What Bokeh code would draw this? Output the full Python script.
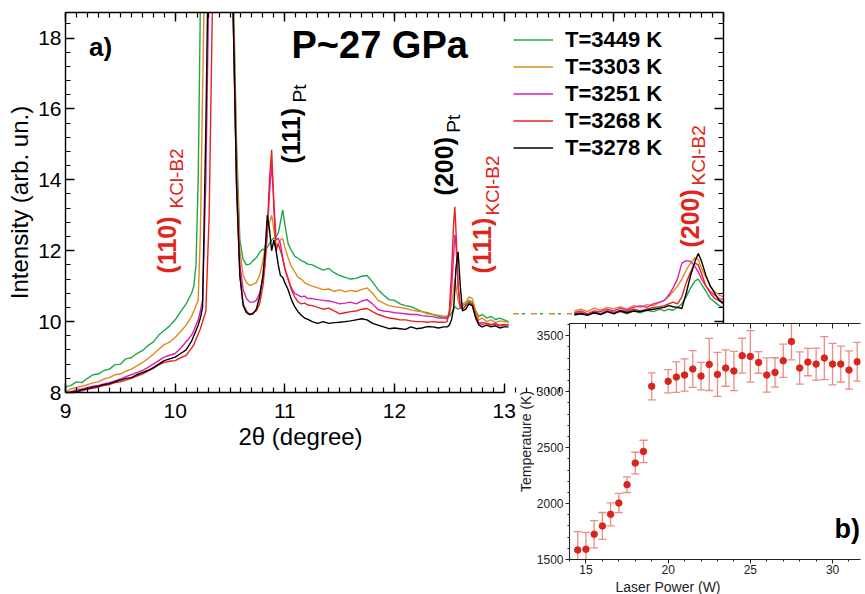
import numpy as np
from bokeh.plotting import figure
from bokeh.models import (Range1d, LinearAxis, Label, Legend, LegendItem, Title,
                          ColumnDataSource, Whisker, TeeHead, FixedTicker)
from bokeh.layouts import column
from bokeh.embed import file_html
from bokeh.resources import INLINE

FONT = "Liberation Sans"

# ---------------- panel a) : XRD patterns ----------------
two_theta = [9.00, 9.05, 9.10, 9.15, 9.20, 9.25, 9.30, 9.35, 9.40, 9.45, 9.50, 9.55,
             9.60, 9.65, 9.70, 9.75, 9.80, 9.85, 9.90, 9.95, 10.00, 10.05, 10.10, 10.15,
             10.17, 10.19, 10.21, 10.23, 10.25, 10.28, 10.31, 10.35, 10.45, 10.50, 10.53,
             10.56, 10.59, 10.62, 10.65, 10.68, 10.71, 10.74, 10.77, 10.80, 10.82, 10.84,
             10.86, 10.88, 10.90, 10.92, 10.94, 10.96, 10.98, 11.00, 11.03, 11.06, 11.09,
             11.12, 11.15, 11.18, 11.21,
             11.25, 11.30, 11.35, 11.40, 11.45, 11.50, 11.55, 11.60, 11.65, 11.70, 11.75,
             11.80, 11.85, 11.90, 11.95, 12.00, 12.05, 12.10, 12.15, 12.20, 12.25, 12.30,
             12.35, 12.40, 12.45,
             12.48, 12.50, 12.52, 12.54, 12.55, 12.56, 12.58, 12.60, 12.62, 12.65, 12.68,
             12.71, 12.74, 12.77, 12.80, 12.84, 12.88, 12.92, 12.96, 13.00, 13.04]

two_theta_hi = [13.64, 13.70, 13.76, 13.82, 13.88, 13.94, 14.00, 14.06, 14.12, 14.18,
                14.24, 14.30, 14.36, 14.42, 14.46, 14.50, 14.54, 14.58, 14.62, 14.66,
                14.70, 14.74, 14.77, 14.80, 14.84, 14.88, 14.92, 14.96, 15.00]

gap_theta = [13.08, 13.62]
gap_int = [10.22, 10.22]

int_3449 = [8.15, 8.2, 8.3, 8.28, 8.4, 8.5, 8.52, 8.62, 8.66, 8.78, 8.8, 8.95,
            8.98, 9.1, 9.18, 9.32, 9.42, 9.62, 9.75, 9.88, 10.05, 10.28, 10.5, 10.8,
            11.0, 11.6, 14.0, 19.0, 23.0, 27.0, 29.0, 30.0, 30.0, 25.0, 19.5,
            15.0, 12.3, 11.75, 11.6, 11.62, 11.72, 11.8, 11.95, 12.05, 12.0, 12.1,
            12.2, 12.3, 12.35, 12.4, 12.5, 12.8, 13.15, 12.75, 12.2, 12.0, 11.85,
            11.78, 11.72, 11.68, 11.62,
            11.6, 11.52, 11.45, 11.5, 11.38, 11.3, 11.25, 11.2, 11.22, 11.28, 11.3,
            11.12, 10.9, 10.75, 10.62, 10.6, 10.5, 10.45, 10.42, 10.35, 10.28, 10.25,
            10.2, 10.15, 10.12,
            10.1, 10.15, 10.25, 10.35, 10.42, 10.4, 10.35, 10.38, 10.45, 10.5, 10.6,
            10.55, 10.3, 10.15, 10.2, 10.1, 10.15, 10.06, 10.1, 10.05, 10.0]
int_3303 = [8.02, 8.1, 8.14, 8.18, 8.22, 8.27, 8.3, 8.38, 8.42, 8.5, 8.52, 8.6,
            8.66, 8.75, 8.84, 8.95, 9.08, 9.22, 9.35, 9.42, 9.55, 9.72, 9.9, 10.15,
            10.3, 10.45, 10.6, 12.5, 16.5, 22.0, 26.0, 30.0, 30.0, 24.0, 19.0,
            14.5, 12.0, 11.3, 11.1, 11.02, 11.05, 11.1, 11.3, 11.7, 12.1, 12.5,
            12.8, 13.0, 12.6, 12.1, 12.2, 12.3, 12.35, 12.1, 11.8, 11.55, 11.4,
            11.25, 11.2, 11.1, 11.05,
            11.0, 10.95, 10.9, 10.92, 10.85, 10.9, 10.84, 10.88, 10.85, 10.9, 10.95,
            10.8, 10.6, 10.52, 10.45, 10.42, 10.4, 10.37, 10.33, 10.3, 10.28, 10.22,
            10.2, 10.18, 10.15,
            10.15, 10.2, 10.5, 10.9, 11.2, 11.0, 10.6, 10.4, 10.5, 10.55, 10.7,
            10.65, 10.3, 10.05, 10.1, 10.0, 10.05, 9.98, 10.02, 10.0, 9.98]
int_3251 = [7.98, 8.02, 8.08, 8.1, 8.14, 8.18, 8.2, 8.24, 8.28, 8.33, 8.38, 8.45,
            8.5, 8.56, 8.62, 8.7, 8.8, 8.9, 9.0, 9.05, 9.1, 9.25, 9.43, 9.62,
            9.75, 9.9, 10.05, 10.3, 10.6, 14.0, 20.0, 30.0, 30.0, 24.0, 18.5,
            14.0, 11.6, 10.9, 10.65, 10.55, 10.55, 10.6, 10.8, 11.2, 11.7, 12.5,
            13.6, 14.45, 13.4, 12.3, 12.35, 12.2, 11.8, 11.5, 11.2, 10.95, 10.8,
            10.75, 10.7, 10.72, 10.65,
            10.65, 10.62, 10.6, 10.58, 10.55, 10.5, 10.52, 10.55, 10.5, 10.58, 10.62,
            10.5, 10.34, 10.3, 10.28, 10.25, 10.24, 10.22, 10.2, 10.2, 10.17, 10.15,
            10.14, 10.1, 10.1,
            10.08, 10.25, 10.9, 11.9, 12.45, 12.2, 11.0, 10.45, 10.35, 10.45, 10.5,
            10.45, 10.15, 9.95, 9.98, 9.95, 9.92, 9.95, 9.9, 9.92, 9.9]
int_3268 = [7.95, 7.98, 8.02, 8.05, 8.1, 8.12, 8.15, 8.2, 8.22, 8.28, 8.3, 8.35,
            8.4, 8.46, 8.52, 8.6, 8.68, 8.78, 8.85, 8.88, 8.9, 8.98, 9.05, 9.25,
            9.35, 9.5, 9.65, 9.8, 10.0, 10.3, 13.0, 21.0, 30.0, 24.0, 18.5,
            13.8, 11.3, 10.5, 10.3, 10.2, 10.25, 10.3, 10.5, 11.0, 11.6, 12.6,
            14.0, 14.85, 13.2, 12.0, 12.2, 12.0, 11.8, 11.5, 11.2, 10.9, 10.7,
            10.56, 10.5, 10.52, 10.47,
            10.45, 10.4, 10.35, 10.38, 10.3, 10.22, 10.25, 10.28, 10.3, 10.35, 10.37,
            10.28, 10.2, 10.15, 10.1, 10.08, 10.05, 10.05, 10.02, 10.0, 10.0, 9.98,
            10.0, 9.98, 9.98,
            10.0, 10.3, 11.4, 12.8, 13.24, 12.6, 11.0, 10.4, 10.35, 10.45, 10.55,
            10.5, 10.2, 9.95, 9.92, 9.95, 9.9, 9.92, 9.88, 9.9, 9.92]
int_3278 = [7.95, 8.0, 8.02, 8.08, 8.1, 8.15, 8.18, 8.22, 8.25, 8.3, 8.35, 8.4,
            8.42, 8.5, 8.56, 8.62, 8.7, 8.8, 8.9, 8.95, 9.0, 9.1, 9.2, 9.45,
            9.6, 9.75, 9.9, 10.1, 10.4, 15.5, 22.0, 30.0, 30.0, 24.0, 18.5,
            13.8, 11.3, 10.45, 10.25, 10.2, 10.22, 10.35, 10.7, 11.3, 12.0, 13.0,
            12.6, 12.0, 12.3, 12.0, 11.6, 11.3, 11.25, 11.1, 10.9, 10.62, 10.42,
            10.28, 10.18, 10.1, 10.06,
            10.0, 9.95, 10.0, 9.95, 9.97, 9.98, 10.0, 10.02, 10.05, 10.08, 10.05,
            9.95, 9.9, 9.85, 9.8, 9.82, 9.8, 9.78, 9.85, 9.8, 9.82, 9.86,
            9.85, 9.82, 9.85,
            9.85, 9.9, 10.05, 10.4, 10.9, 11.5, 11.97, 11.0, 10.3, 10.35, 10.5,
            10.45, 10.1, 9.9, 9.85, 9.9, 9.85, 9.88, 9.82, 9.85, 9.85]

hi_3449 = [10.18, 10.22, 10.2, 10.25, 10.22, 10.3, 10.25, 10.28, 10.22, 10.3, 10.25, 10.32,
           10.28, 10.35, 10.3, 10.35, 10.32, 10.4, 10.5, 10.7, 10.95, 11.15, 11.2, 11.05,
           10.85, 10.65, 10.55, 10.45, 10.4]
hi_3303 = [10.3, 10.35, 10.28, 10.38, 10.32, 10.4, 10.36, 10.42, 10.35, 10.45, 10.4, 10.48,
           10.45, 10.55, 10.6, 10.7, 10.85, 11.0, 11.2, 11.45, 11.65, 11.8, 11.75, 11.5,
           11.25, 11.0, 10.85, 10.75, 10.7]
hi_3251 = [10.25, 10.3, 10.22, 10.3, 10.28, 10.35, 10.3, 10.38, 10.32, 10.4, 10.45, 10.4,
           10.5, 10.55, 10.6, 10.75, 10.95, 11.2, 11.65, 11.72, 11.7, 11.55, 11.4, 11.2,
           11.0, 10.85, 10.75, 10.65, 10.62]
hi_3268 = [10.22, 10.25, 10.2, 10.28, 10.22, 10.3, 10.25, 10.32, 10.28, 10.35, 10.3, 10.35,
           10.4, 10.42, 10.45, 10.5, 10.55, 10.5, 10.7, 11.1, 11.4, 11.65, 11.6, 11.35,
           11.0, 10.8, 10.65, 10.6, 10.55]
hi_3278 = [10.2, 10.22, 10.18, 10.25, 10.2, 10.28, 10.22, 10.3, 10.25, 10.3, 10.28, 10.32,
           10.35, 10.38, 10.4, 10.45, 10.42, 10.4, 10.37, 10.8, 11.3, 11.7, 11.92, 11.7,
           11.3, 11.0, 10.8, 10.6, 10.5]

series_labels = ["T=3449 K", "T=3303 K", "T=3251 K", "T=3268 K", "T=3278 K"]
series_colors = ["#1ea84a", "#e08a1e", "#dc1fb4", "#e8231e", "#000000"]
series_lo = [int_3449, int_3303, int_3251, int_3268, int_3278]
series_hi = [hi_3449, hi_3303, hi_3251, hi_3268, hi_3278]

for s in series_lo:
    assert len(s) == len(two_theta), len(s)
for s in series_hi:
    assert len(s) == len(two_theta_hi), len(s)

# peak labels (rotated): main part, subscript
peak_main_text = ["(110)", "(111)", "(200)", "(111)", "(200)"]
peak_main_x = [9.93, 11.06, 12.45, 12.80, 14.69]
peak_main_y = [11.36, 14.46, 13.56, 11.36, 12.09]
peak_sub_text = ["KCl-B2", "Pt", "Pt", "KCl-B2", "KCl-B2"]
peak_sub_x = [10.01, 11.135, 12.54, 12.89, 14.77]
peak_sub_y = [13.19, 16.18, 15.33, 12.99, 13.84]
peak_color = ["#e3241b", "#000000", "#000000", "#e3241b", "#e3241b"]

# ---------------- panel b) : temperature vs laser power ----------------
laser_power = [14.5, 15.0, 15.5, 16.0, 16.5, 17.0, 17.5, 18.0, 18.5, 19.0, 20.0, 20.5,
               21.0, 21.5, 22.0, 22.5, 23.0, 23.5, 24.0, 24.5, 25.0, 25.5, 26.0, 26.5,
               27.0, 27.5, 28.0, 28.5, 29.0, 29.5, 30.0, 30.5, 31.0, 31.5]
temperature = [1585, 1592, 1726, 1800, 1904, 2005, 2169, 2362, 2466, 3048, 3093, 3131,
               3149, 3203, 3140, 3244, 3155, 3212, 3185, 3322, 3316, 3262, 3149, 3173,
               3277, 3449, 3212, 3265, 3247, 3301, 3247, 3247, 3194, 3268]
temp_err = [165, 150, 122, 120, 103, 86, 70, 97, 100, 120, 104, 136,
            144, 164, 123, 233, 197, 163, 175, 156, 230, 97, 153, 131,
            149, 165, 144, 122, 143, 192, 185, 160, 171, 174]

# ======================= main figure =======================
p = figure(width=728, height=458, x_range=Range1d(9, 15), y_range=Range1d(8, 18.72),
           output_backend="svg", toolbar_location=None,
           x_axis_location=None, y_axis_location=None,
           min_border_left=65, min_border_right=5, min_border_top=12, min_border_bottom=66,
           background_fill_color="white", border_fill_color="white",
           outline_line_color=None)
p.xgrid.visible = False
p.ygrid.visible = False

xt = FixedTicker(ticks=list(range(9, 16)),
                 minor_ticks=[round(9 + 0.1 * i, 2) for i in range(61)])
yt = FixedTicker(ticks=[8, 10, 12, 14, 16, 18],
                 minor_ticks=[round(8 + 0.4 * i, 2) for i in range(27)])


def style_axis(ax, show_labels):
    ax.axis_line_color = "black"
    ax.axis_line_width = 1.4
    ax.major_tick_in = 9
    ax.major_tick_out = 0
    ax.minor_tick_in = 5
    ax.minor_tick_out = 0
    ax.major_tick_line_width = 1.4
    ax.minor_tick_line_width = 1.2
    ax.major_label_text_font = FONT
    ax.major_label_text_color = "black"
    if show_labels:
        ax.major_label_text_font_size = "21px"
    else:
        ax.major_label_text_font_size = "0px"
        ax.major_label_standoff = 0


ax_b = LinearAxis(ticker=xt, bounds=(9, 13))
style_axis(ax_b, True)
ax_b.major_label_standoff = 11
ax_t = LinearAxis(ticker=xt)
style_axis(ax_t, False)
ax_l = LinearAxis(ticker=yt)
style_axis(ax_l, True)
ax_l.major_label_standoff = 4
ax_l.axis_label = "Intensity (arb. un.)"
ax_l.axis_label_text_font = FONT
ax_l.axis_label_text_font_size = "24px"
ax_l.axis_label_text_font_style = "normal"
ax_l.axis_label_text_color = "black"
ax_l.axis_label_standoff = 2
ax_r = LinearAxis(ticker=yt)
style_axis(ax_r, False)
p.add_layout(ax_b, "below")
p.add_layout(ax_t, "above")
p.add_layout(ax_l, "left")
p.add_layout(ax_r, "right")
p.add_layout(Title(text="2θ (degree)", align="left", offset=173, standoff=0,
                   text_font=FONT, text_font_size="24px", text_font_style="normal",
                   text_color="black"), "below")

legend_items = []
for lab, col, ylo, yhi in zip(series_labels, series_colors, series_lo, series_hi):
    r = p.line(two_theta, ylo, line_color=col, line_width=1.4)
    p.line(two_theta_hi, yhi, line_color=col, line_width=1.4)
    legend_items.append(LegendItem(label=lab, renderers=[r]))

p.line(gap_theta, gap_int, line_color=series_colors[1], line_width=1.4, line_dash="6 12")
p.line(gap_theta, gap_int, line_color=series_colors[0], line_width=1.4, line_dash="3 15",
       line_dash_offset=9)

legend = Legend(items=legend_items, location=(448, 231),
                label_text_font=FONT, label_text_font_size="22px",
                label_text_font_style="bold", label_text_color="black",
                glyph_width=40, glyph_height=27, label_height=27, spacing=0,
                padding=0, margin=0, label_standoff=12,
                border_line_color=None, background_fill_alpha=0)
p.add_layout(legend)

for t, x, y, c, in zip(peak_main_text, peak_main_x, peak_main_y, peak_color):
    p.add_layout(Label(x=x, y=y, text=t, angle=np.pi / 2, text_align="left",
                       text_baseline="middle", text_font=FONT, text_font_size="25px",
                       text_font_style="bold", text_color=c))
for t, x, y, c, in zip(peak_sub_text, peak_sub_x, peak_sub_y, peak_color):
    p.add_layout(Label(x=x, y=y, text=t, angle=np.pi / 2, text_align="left",
                       text_baseline="middle", text_font=FONT, text_font_size="19px",
                       text_font_style="normal", text_color=c))

p.add_layout(Label(x=9.32, y=17.76, text="a)", text_align="center", text_baseline="middle",
                   text_font=FONT, text_font_size="26px", text_font_style="bold",
                   text_color="black"))
p.add_layout(Label(x=11.865, y=17.79, text="P~27 GPa", text_align="center",
                   text_baseline="middle", text_font=FONT, text_font_size="38px",
                   text_font_style="bold", text_color="black"))

# ======================= inset figure =======================
q = figure(width=361, height=280, x_range=Range1d(14, 31.70), y_range=Range1d(1500, 3610),
           output_backend="svg", toolbar_location=None,
           x_axis_location=None, y_axis_location=None,
           min_border_left=65, min_border_right=0, min_border_top=9, min_border_bottom=35,
           background_fill_color="white", border_fill_color=None,
           outline_line_color=None)
q.xgrid.visible = False
q.ygrid.visible = False
q.margin = (-144, 0, 0, 504)

qxt = FixedTicker(ticks=[15, 20, 25, 30], minor_ticks=list(range(14, 33)))
qyt = FixedTicker(ticks=[1500, 2000, 2500, 3000, 3500],
                  minor_ticks=list(range(1500, 3700, 100)))


def style_inset_axis(ax, show_labels, inside=False):
    ax.axis_line_color = "#222222"
    ax.axis_line_width = 1.1
    if inside:
        ax.major_tick_in, ax.major_tick_out = 5, 0
        ax.minor_tick_in, ax.minor_tick_out = 3, 0
    else:
        ax.major_tick_in, ax.major_tick_out = 0, 4
        ax.minor_tick_in, ax.minor_tick_out = 0, 2
    ax.major_tick_line_color = "#222222"
    ax.minor_tick_line_color = "#222222"
    ax.major_label_text_font = FONT
    ax.major_label_text_color = "#222222"
    if show_labels:
        ax.major_label_text_font_size = "12px"
    else:
        ax.major_label_text_font_size = "0px"
        ax.major_label_standoff = 0


qb = LinearAxis(ticker=qxt)
style_inset_axis(qb, True)
qb.major_label_standoff = 1
qt = LinearAxis(ticker=qxt)
style_inset_axis(qt, False, inside=True)
ql = LinearAxis(ticker=qyt)
style_inset_axis(ql, True)
ql.major_label_standoff = 2
ql.axis_label = "Temperature (K)"
ql.axis_label_text_font = FONT
ql.axis_label_text_font_size = "14px"
ql.axis_label_text_font_style = "normal"
ql.axis_label_text_color = "#222222"
ql.axis_label_standoff = 0
q.add_layout(qb, "below")
q.add_layout(qt, "above")
q.add_layout(ql, "left")
q.add_layout(Title(text="Laser Power (W)", align="left", offset=46, standoff=0,
                   text_font=FONT, text_font_size="14px", text_font_style="normal",
                   text_color="#222222"), "below")

src = ColumnDataSource(dict(power=laser_power, temp=temperature,
                            upper=[t + e for t, e in zip(temperature, temp_err)],
                            lower=[t - e for t, e in zip(temperature, temp_err)]))
err_col = "#ec8c86"
q.add_layout(Whisker(source=src, base="power", upper="upper", lower="lower",
                     line_color=err_col, line_width=1.3,
                     upper_head=TeeHead(size=8, line_color=err_col, line_width=1.3),
                     lower_head=TeeHead(size=8, line_color=err_col, line_width=1.3)))
q.scatter("power", "temp", source=src, size=6.5, color="#d8261c")

q.add_layout(Label(x=30.9, y=1777, text="b)", text_align="center", text_baseline="middle",
                   text_font=FONT, text_font_size="27px", text_font_style="bold",
                   text_color="black"))

layout = column(p, q)
open("out.html", "w").write(file_html(layout, INLINE))
